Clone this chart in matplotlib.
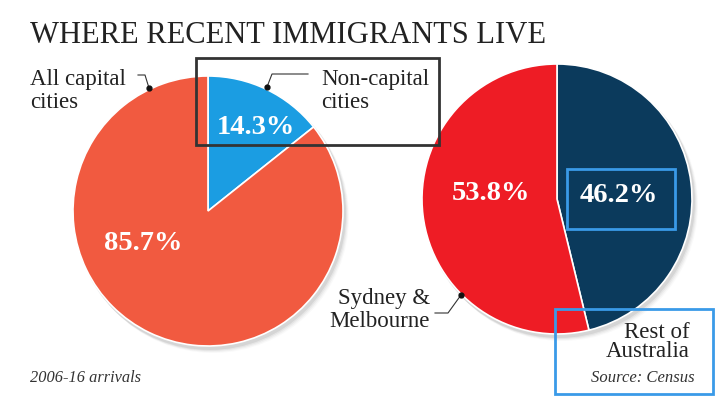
import matplotlib.pyplot as plt
from matplotlib.patches import Circle, Rectangle

W, H = 728, 408

# data
left_labels = ["Non-capital cities", "All capital cities"]
left_values = [14.3, 85.7]
left_colors = ["#1b9de2", "#f15a40"]

right_labels = ["Rest of Australia", "Sydney & Melbourne"]
right_values = [46.2, 53.8]
right_colors = ["#0b3a5c", "#ee1c25"]

SERIF = ["Liberation Serif", "DejaVu Serif"]


def py(y):
    # pixel row (from top) -> data y
    return H - y


fig = plt.figure(figsize=(W / 100, H / 100), dpi=100)
ax = fig.add_axes([0, 0, 1, 1])


def draw_pie(values, colors, cx, cy, r):
    for i, a in enumerate([0.10, 0.07, 0.05, 0.03]):
        ax.add_patch(Circle((cx + 2 + i, py(cy) - 3 - i), r + 1, color="#555555",
                            alpha=a, lw=0, zorder=1))
    ax.pie(values, colors=colors, startangle=90, counterclock=False,
           center=(cx, py(cy)), radius=r, frame=True,
           wedgeprops=dict(edgecolor="white", linewidth=1.2, zorder=2))


draw_pie(left_values, left_colors, 208, 211, 135)
draw_pie(right_values, right_colors, 557, 199, 135)
ax.set_xlim(0, W)
ax.set_ylim(0, H)
ax.set_aspect("equal")
ax.axis("off")

# title
ax.text(30, py(43), "WHERE RECENT IMMIGRANTS LIVE", family=SERIF, fontsize=22,
        color="#222222", ha="left", va="baseline")

# percentages
pct_style = dict(family=SERIF, fontsize=20.5, fontweight="bold", color="white",
                 ha="center", va="center", zorder=5)
ax.text(256, py(127), f"{left_values[0]}%", **pct_style)
ax.text(143, py(243), f"{left_values[1]}%", **pct_style)
ax.text(619, py(195), f"{right_values[0]}%", **pct_style)
ax.text(491, py(194), f"{right_values[1]}%", **pct_style)

# category labels
lab = dict(family=SERIF, fontsize=16.5, color="#222222", linespacing=1.12, zorder=5)
ax.text(30, py(108), "All capital\ncities", ha="left", va="baseline", **lab)
ax.text(321, py(108), "Non-capital\ncities", ha="left", va="baseline", **lab)
ax.text(430, py(327), "Sydney &\nMelbourne", ha="right", va="baseline", **lab)
ax.text(690, py(357), "Rest of\nAustralia", ha="right", va="baseline",
        **{**lab, "linespacing": 0.9})

# leader lines
leaders = [
    [(138, 75), (145, 75), (149, 88)],
    [(308, 74), (272, 74), (267, 87)],
    [(435, 313), (448, 313), (461, 295)],
]
for pts in leaders:
    xs = [p[0] for p in pts]
    ys = [py(p[1]) for p in pts]
    ax.plot(xs, ys, color="#333333", lw=0.8, zorder=6)
    ax.plot(xs[-1], ys[-1], "o", color="#111111", ms=3.5, zorder=7)

# notes
note = dict(family=SERIF, style="italic", color="#333333", va="baseline")
ax.text(30, py(382), "2006-16 arrivals", ha="left", fontsize=11.8, **note)
ax.text(695, py(382), "Source: Census", ha="right", fontsize=12, **note)

# highlight boxes
boxes = [
    ((196, 58, 439, 145), "#333333"),
    ((567, 169, 675, 229), "#3a9ae8"),
    ((555, 309, 713, 394), "#3a9ae8"),
]
for (x0, y0, x1, y1), c in boxes:
    ax.add_patch(Rectangle((x0, py(y1)), x1 - x0, y1 - y0, fill=False,
                           edgecolor=c, lw=2, zorder=8))

fig.savefig("out.png", dpi=100)
plt.close(fig)
